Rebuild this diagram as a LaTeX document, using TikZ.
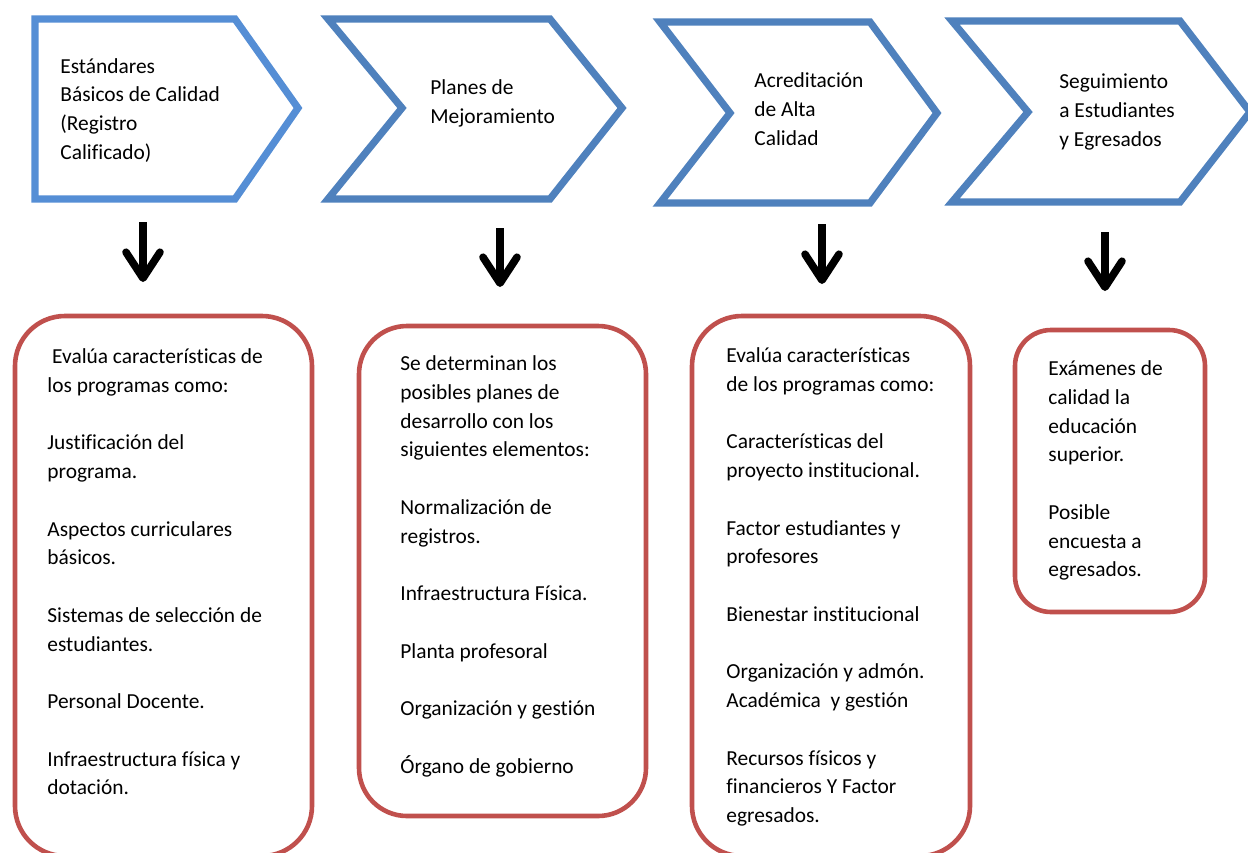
\documentclass[tikz,border=0pt]{standalone}
\usepackage{fontspec}
\setmainfont{Carlito}[Ligatures={NoCommon}]
\usetikzlibrary{arrows.meta}
\definecolor{chevblue}{HTML}{4F81BD}
\definecolor{chevlight}{HTML}{558ED5}
\definecolor{boxred}{HTML}{C0504D}
\tikzset{
  chev/.style={draw=chevblue, line width=3.6pt, line join=miter},
  rbox/.style={draw=boxred, line width=2.3pt},
  txt/.style={anchor=north west, inner sep=0pt, align=left,
    font=\fontsize{10.7pt}{14.375pt}\selectfont},
  downarrow/.style={line width=3.8pt, -{Straight Barb[round, length=13pt, width=17pt]}}
}
\begin{document}
\begin{tikzpicture}[x=0.5pt, y=-0.5pt]
\useasboundingbox (0,0) rectangle (1248,852);
% chevrons
\draw[chev, draw=chevlight] (35,19) -- (235,19) -- (298,108) -- (235,199) -- (35,199) -- cycle;
\draw[chev] (328,19) -- (550,19) -- (622,108) -- (550,199) -- (328,199) -- (402,108) -- cycle;
\draw[chev] (660,22) -- (870,22) -- (937,113) -- (870,203) -- (660,203) -- (730,113) -- cycle;
\draw[chev] (952,21) -- (1180,21) -- (1250,112) -- (1180,202) -- (952,202) -- (1028,112) -- cycle;
% chevron texts
\node[txt] (c1) at (60,52.6) {\strut Estándares\\Básicos de Calidad\\(Registro\\Calificado)};
\node[txt] (c2) at (430,74.2) {\strut Planes de\\Mejoramiento};
\node[txt] (c3) at (754,67.2) {\strut Acreditación\\de Alta\\Calidad};
\node[txt] (c4) at (1059,68.2) {\strut Seguimiento\\a Estudiantes\\y Egresados};
% arrows
\coordinate (a1s) at (143,222); \coordinate (a1e) at (143,282);
\coordinate (a2s) at (500,228); \coordinate (a2e) at (500,287);
\coordinate (a3s) at (822,224); \coordinate (a3e) at (822,284);
\coordinate (a4s) at (1105,232); \coordinate (a4e) at (1105,291);
\draw[downarrow] (a1s) -- (a1e);
\draw[downarrow] (a2s) -- (a2e);
\draw[downarrow] (a3s) -- (a3e);
\draw[downarrow] (a4s) -- (a4e);
% boxes
\draw[rbox, rounded corners=25pt] (15,316) rectangle (312,856);
\draw[rbox, rounded corners=24pt] (359,326) rectangle (646,816);
\draw[rbox, rounded corners=25pt] (692,316) rectangle (970,856);
\draw[rbox, rounded corners=18pt] (1015,330) rectangle (1205,612);
% box texts
\node[txt] (b1) at (47,343) {\strut\ Evalúa características de\\los programas como:\\[14.375pt]Justificación del\\programa.\\[14.375pt]Aspectos curriculares\\básicos.\\[14.375pt]Sistemas de selección de\\estudiantes.\\[14.375pt]Personal Docente.\\[14.375pt]Infraestructura física y\\dotación.};
\node[txt] (b2) at (400,350) {\strut Se determinan los\\posibles planes de\\desarrollo con los\\siguientes elementos:\\[14.375pt]Normalización de\\registros.\\[14.375pt]Infraestructura Física.\\[14.375pt]Planta profesoral\\[14.375pt]Organización y gestión\\[14.375pt]Órgano de gobierno};
\node[txt] (b3) at (726,342) {\strut Evalúa características\\de los programas como:\\[14.375pt]Características del\\proyecto institucional.\\[14.375pt]Factor estudiantes y\\profesores\\[14.375pt]Bienestar institucional\\[14.375pt]Organización y admón.\\Académica\ \ y gestión\\[14.375pt]Recursos físicos y\\financieros Y Factor\\egresados.};
\node[txt] (b4) at (1048,355) {\strut Exámenes de\\calidad la\\educación\\superior.\\[14.375pt]Posible\\encuesta a\\egresados.};
\end{tikzpicture}
\end{document}
